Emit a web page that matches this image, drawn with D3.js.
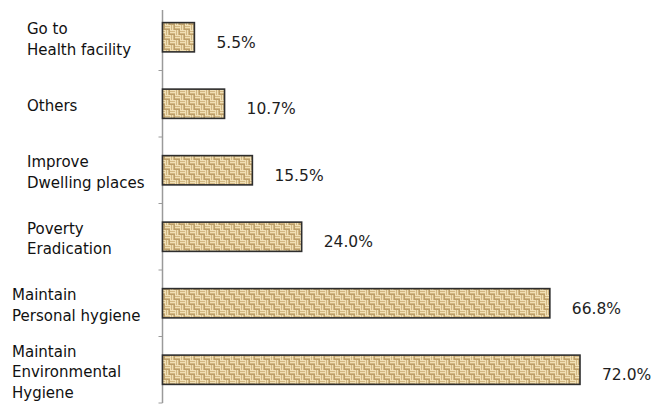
<!DOCTYPE html>
<html><head><meta charset="utf-8">
<script src="https://cdn.jsdelivr.net/npm/d3@7"></script>
<style>body{margin:0;background:#fff}svg{display:block}</style>
</head><body>
<script>
const categories = [
  ["Go to", "Health facility"],
  ["Others"],
  ["Improve", "Dwelling places"],
  ["Poverty", "Eradication"],
  ["Maintain", "Personal hygiene"],
  ["Maintain", "Environmental", "Hygiene"]
];
const values = [5.5, 10.7, 15.5, 24.0, 66.8, 72.0];
const valueLabels = ["5.5%", "10.7%", "15.5%", "24.0%", "66.8%", "72.0%"];

const W = 652, H = 405;
const svg = d3.select("body").append("svg").attr("width", W).attr("height", H);

// basket-weave pattern
const defs = svg.append("defs");
const pat = defs.append("pattern").attr("id", "weave").attr("patternUnits", "userSpaceOnUse")
  .attr("width", 10).attr("height", 10);
pat.append("rect").attr("width", 10).attr("height", 10).attr("fill", "#d3b782");
const light = "#f0e0b6", dark = "#a98b56";
[[0,0],[5,5]].forEach(([x,y]) => {
  pat.append("rect").attr("x", x).attr("y", y).attr("width", 5).attr("height", 1).attr("fill", light);
  pat.append("rect").attr("x", x).attr("y", y+2).attr("width", 5).attr("height", 1).attr("fill", light);
  pat.append("rect").attr("x", x).attr("y", y+4).attr("width", 5).attr("height", 1).attr("fill", dark).attr("opacity", 0.55);
});
[[5,0],[0,5]].forEach(([x,y]) => {
  pat.append("rect").attr("x", x).attr("y", y).attr("width", 1).attr("height", 5).attr("fill", light);
  pat.append("rect").attr("x", x+2).attr("y", y).attr("width", 1).attr("height", 5).attr("fill", light);
  pat.append("rect").attr("x", x+4).attr("y", y).attr("width", 1).attr("height", 5).attr("fill", dark).attr("opacity", 0.55);
});

const x0 = 162.5;
const x = d3.scaleLinear().domain([0, 72]).range([x0, 580]);
const y = d3.scaleBand().domain(d3.range(categories.length)).range([4, 403]).paddingInner(0.56).paddingOuter(0.28);

// axis
const step = y.step();
svg.append("line").attr("x1", x0).attr("x2", x0).attr("y1", 10).attr("y2", 403)
  .attr("stroke", "#9a9a9a").attr("stroke-width", 1.5);
d3.range(1, categories.length + 1).forEach(i => {
  const yy = 4 + step * i;
  svg.append("line").attr("x1", x0 - 4).attr("x2", x0).attr("y1", yy).attr("y2", yy)
    .attr("stroke", "#9a9a9a").attr("stroke-width", 1);
});

// bars
svg.selectAll("rect.bar").data(values).enter().append("rect").attr("class", "bar")
  .attr("x", x0).attr("y", (d, i) => y(i))
  .attr("width", d => x(d) - x0).attr("height", y.bandwidth())
  .attr("fill", "url(#weave)").attr("stroke", "#2e2e2e").attr("stroke-width", 1.6);

// value labels
svg.selectAll("text.val").data(values).enter().append("text").attr("class", "val")
  .attr("x", d => x(d) + 22).attr("y", (d, i) => y(i) + y.bandwidth() / 2 + 5)
  .attr("dy", "0.35em")
  .attr("font-family", "DejaVu Sans, sans-serif").attr("font-size", 15.5).attr("fill", "#1e1e1e")
  .text((d, i) => valueLabels[i]);

// category labels
const lh = 20.5;
categories.forEach((lines, i) => {
  const cy = y(i) + y.bandwidth() / 2 + 2;
  const lx = i >= 4 ? 12 : 27;
  const t = svg.append("text").attr("font-family", "DejaVu Sans, sans-serif").attr("font-size", 15)
    .attr("fill", "#111");
  lines.forEach((ln, j) => {
    t.append("tspan").attr("x", lx)
      .attr("y", cy + (j - (lines.length - 1) / 2) * lh)
      .attr("dy", "0.35em").text(ln);
  });
});
</script>
</body></html>
